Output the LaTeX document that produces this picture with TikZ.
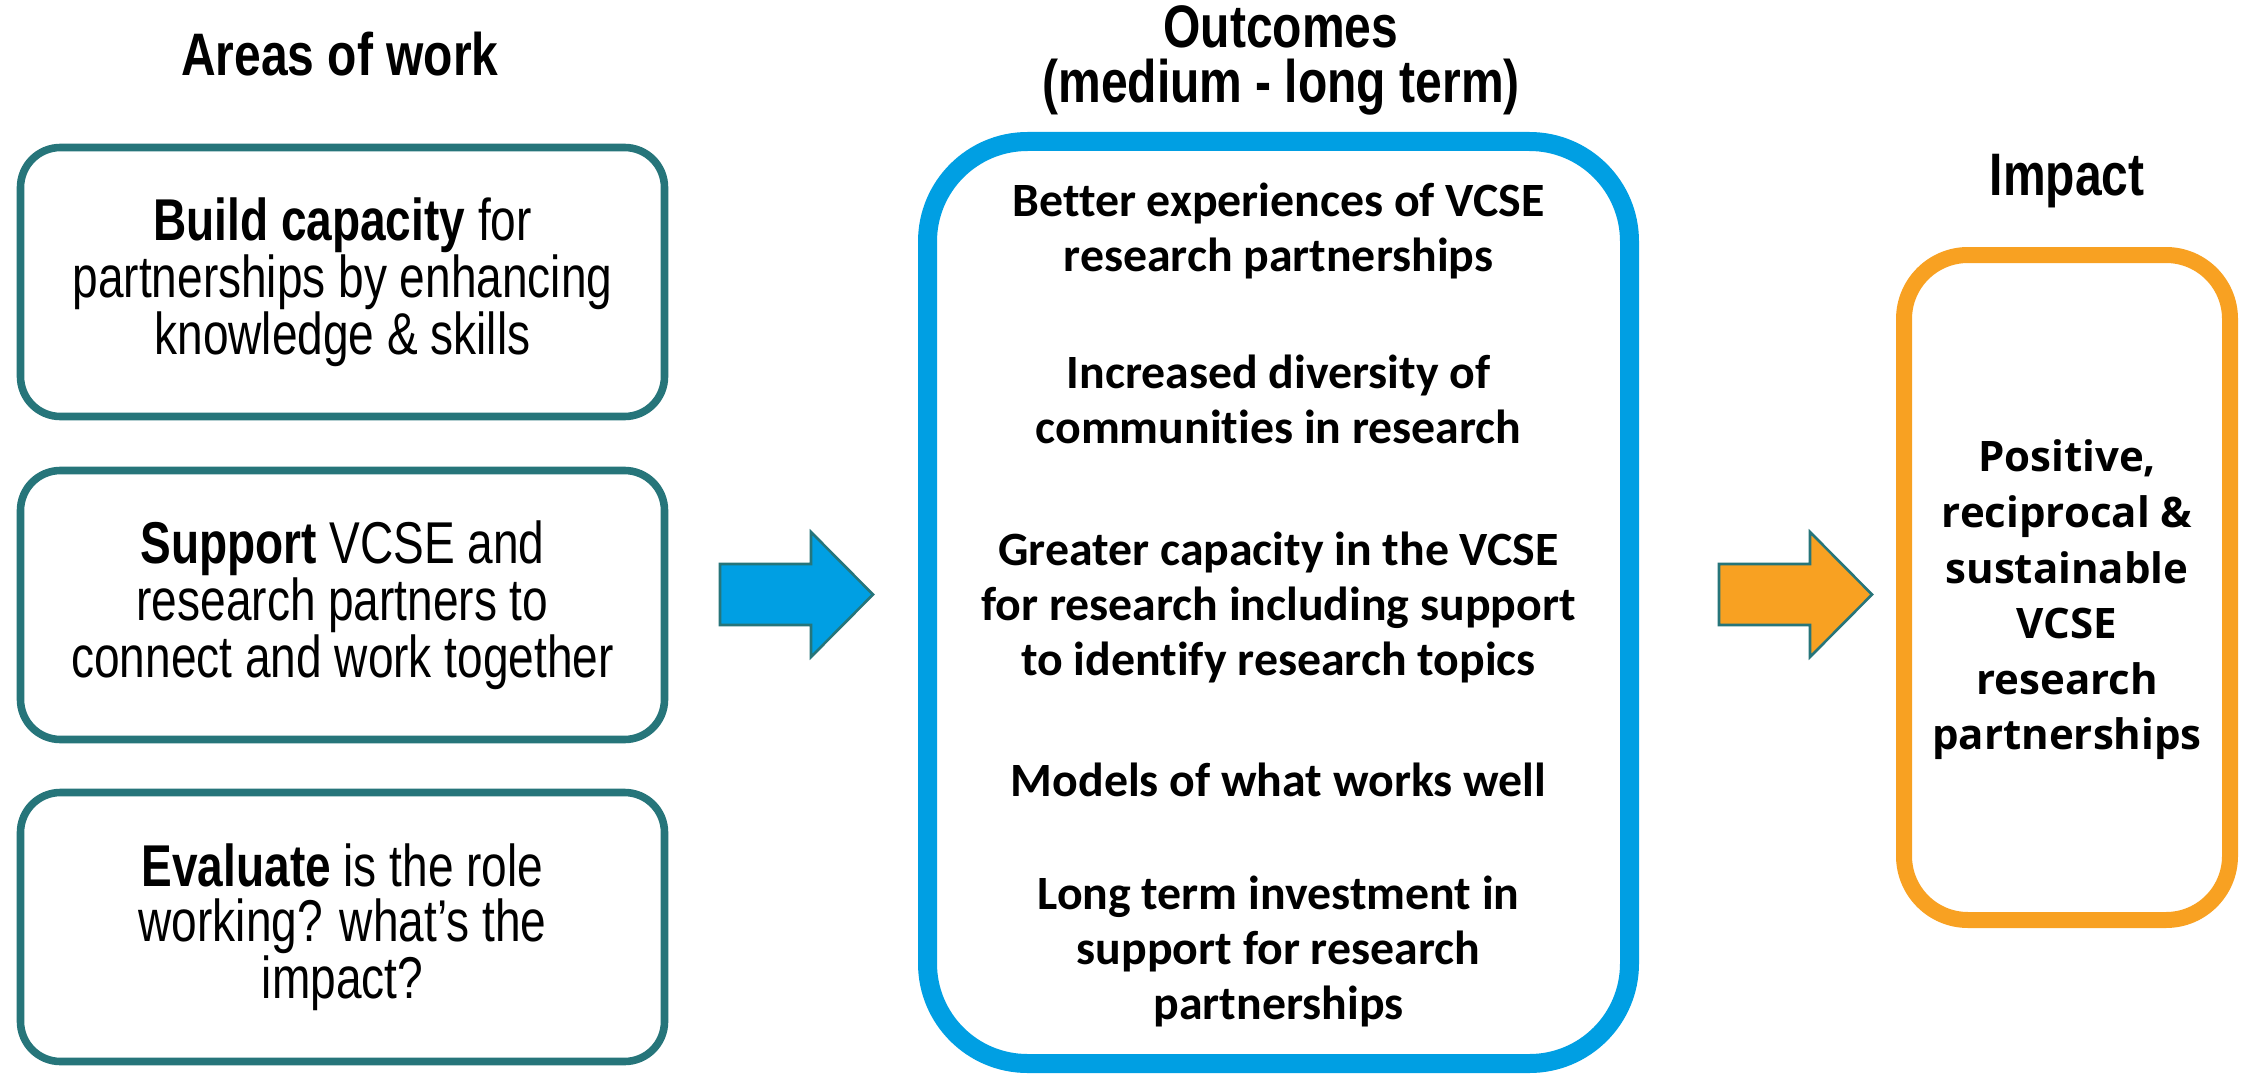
\documentclass[tikz,border=0pt]{standalone}
\usepackage{fontspec}
\setmainfont{Liberation Sans}
\newfontfamily\narrowsans[FakeStretch=0.78]{Liberation Sans}
\newfontfamily\titlesans[FakeStretch=0.80]{Liberation Sans}
\newfontfamily\calibfont[Ligatures=NoCommon]{Carlito}
\newfontfamily\opensansfont{Open Sans}
\definecolor{tealc}{RGB}{38,117,122}
\definecolor{bluec}{RGB}{0,159,227}
\definecolor{orangec}{RGB}{248,161,34}
\begin{document}
\begin{tikzpicture}[x=0.5pt,y=-0.5pt,
  areabox/.style={draw=tealc, line width=3.8pt, rounded corners=20pt,
    minimum width=322pt, minimum height=134.5pt, align=center, inner sep=0pt,
    font=\narrowsans\fontsize{29.5}{27.3}\selectfont},
  coltitle/.style={align=center, inner sep=0pt,
    font=\titlesans\bfseries\fontsize{30}{27.5}\selectfont},
  outbox/.style={draw=bluec, line width=9.5pt, rounded corners=50pt,
    minimum width=351pt, minimum height=461pt, inner sep=0pt},
  outtext/.style={align=center, inner sep=0pt,
    font=\calibfont\bfseries\fontsize{23.9}{27.5}\selectfont},
  impbox/.style={draw=orangec, line width=8pt, rounded corners=32pt,
    minimum width=163pt, minimum height=332.5pt, inner sep=0pt},
  imptext/.style={align=center, inner sep=0pt,
    font=\opensansfont\bfseries\fontsize{21}{27.8}\selectfont},
  blockarrow/.style={draw=tealc, line width=1.3pt, line join=miter}
]
\useasboundingbox (0,0) rectangle (2249,1081);
\fill[white] (0,0) rectangle (2249,1081);

% titles
\node[coltitle] (t1) at (340,54) {Areas of work};
\node[coltitle] (t2) at (1281,60) {Outcomes\\(medium - long term)};
\node[coltitle] (t3) at (2067,181) {Impact};

% left boxes
\node[areabox] (a1) at (342.5,282) {\textbf{Build capacity} for\\partnerships by enhancing\\knowledge \& skills};
\node[areabox] (a2) at (342.5,605) {\textbf{Support} VCSE and\\research partners to\\connect and work together};
\node[areabox] (a3) at (342.5,927) {\textbf{Evaluate} is the role\\working? what’s the\\impact?};

% outcomes box
\node[outbox] (o) at (1278.5,602.5) {};
\node[outtext] (otext) at (1278.5,605) {Better experiences of VCSE\\research partnerships\\[31.3pt]Increased diversity of\\communities in research\\[33.5pt]Greater capacity in the VCSE\\for research including support\\to identify research topics\\[32.7pt]Models of what works well\\[29.2pt]Long term investment in\\support for research\\partnerships};

% impact box
\node[impbox] (i) at (2067,587.5) {};
\node[imptext] (itext) at (2067,600) {Positive,\\reciprocal \&\\sustainable\\VCSE\\research\\partnerships};

% block arrows
\draw[blockarrow, fill=bluec] (720,564) -- (811,564) -- (811,532) -- (873,594.5) -- (811,657) -- (811,625) -- (720,625) -- cycle;
\draw[blockarrow, fill=orangec] (1719,564) -- (1810,564) -- (1810,532) -- (1872,594.5) -- (1810,657) -- (1810,625) -- (1719,625) -- cycle;
\end{tikzpicture}
\end{document}
